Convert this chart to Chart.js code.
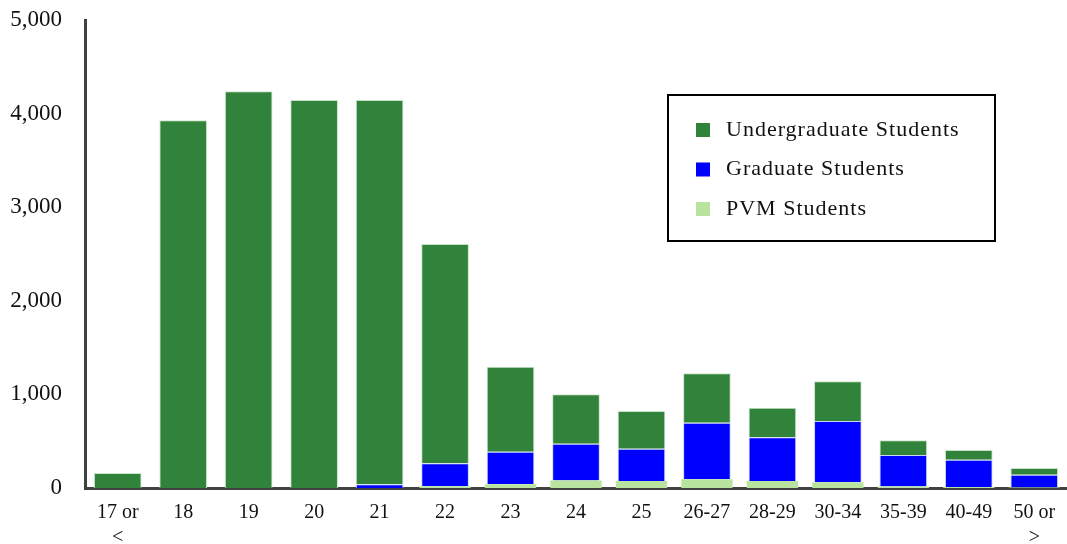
<!DOCTYPE html>
<html>
<head>
<meta charset="utf-8">
<script src="https://cdn.jsdelivr.net/npm/chart.js@4/dist/chart.umd.min.js"></script>
<style>
  html, body { margin: 0; padding: 0; background: #fff; }
  #wrap { width: 1067px; height: 544px; position: relative; }
</style>
</head>
<body>
<div id="wrap"><canvas id="graph"></canvas></div>
<script>
const ageGroups = [["17 or", "<"], "18", "19", "20", "21", "22", "23", "24", "25", "26-27", "28-29", "30-34", "35-39", "40-49", ["50 or", ">"]];
const undergrad = [160, 3930, 4240, 4145, 4105, 2343, 908, 528, 403, 527, 317, 424, 156, 103, 72];
const graduate = [0, 0, 0, 0, 40, 244, 348, 393, 345, 605, 466, 655, 338, 293, 137];
const pvm = [0, 0, 0, 0, 0, 20, 40, 80, 75, 93, 75, 61, 15, 10, 5];
const yTicks = [0, 1000, 2000, 3000, 4000, 5000];

const serif = "'Liberation Serif', 'DejaVu Serif', serif";

// legend box drawn inside the plot, like the original
const boxLegend = {
  id: "boxLegend",
  afterDraw(chart) {
    const ctx = chart.ctx;
    ctx.save();
    ctx.lineWidth = 2;
    ctx.strokeStyle = "#000";
    ctx.strokeRect(668, 95, 327, 146);
    const items = chart.data.datasets.slice().reverse();
    ctx.font = "22px " + serif;
    ctx.letterSpacing = "1px";
    ctx.textBaseline = "middle";
    items.forEach((ds, i) => {
      const y = 130 + i * 39.5;
      ctx.fillStyle = ds.backgroundColor;
      ctx.fillRect(696, y - 7, 14, 14);
      ctx.fillStyle = "#111";
      ctx.fillText(ds.label, 726, y);
    });
    ctx.restore();
  }
};

new Chart(document.getElementById("graph"), {
  type: "bar",
  data: {
    labels: ageGroups,
    datasets: [
      {
        label: "PVM Students",
        data: pvm,
        backgroundColor: "#b8e4a0",
        barPercentage: 0.98,
        categoryPercentage: 0.8
      },
      {
        label: "Graduate Students",
        data: graduate,
        backgroundColor: "#0000ff",
        borderColor: "#c9d6f0",
        borderWidth: 1,
        barPercentage: 0.91,
        categoryPercentage: 0.8
      },
      {
        label: "Undergraduate Students",
        data: undergrad,
        backgroundColor: "#31823b",
        borderColor: "#c9e3c9",
        borderWidth: 1,
        barPercentage: 0.91,
        categoryPercentage: 0.8
      }
    ]
  },
  options: {
    responsive: true,
    maintainAspectRatio: false,
    animation: false,
    layout: { padding: { top: 20, right: 0, left: 0, bottom: 0 } },
    plugins: {
      legend: { display: false },
      tooltip: { enabled: false }
    },
    scales: {
      x: {
        stacked: true,
        grid: { display: false },
        border: { color: "#404040", width: 3 },
        ticks: {
          color: "#111",
          font: { family: serif, size: 20, lineHeight: 1.25 },
          maxRotation: 0,
          autoSkip: false,
          padding: 4
        },
        afterFit(scale) { scale.height = 56; }
      },
      y: {
        stacked: true,
        min: 0,
        max: 5000,
        afterBuildTicks(scale) { scale.ticks = yTicks.map(v => ({ value: v })); },
        grid: { display: false },
        border: { color: "#404040", width: 3 },
        ticks: {
          color: "#111",
          font: { family: serif, size: 23 },
          padding: 15,
          callback: v => v.toLocaleString("en-US")
        },
        afterFit(scale) {
          scale.width = 85;
          scale.paddingTop = 0;
          scale.paddingBottom = 0;
        }
      }
    }
  },
  plugins: [boxLegend]
});
</script>
</body>
</html>
